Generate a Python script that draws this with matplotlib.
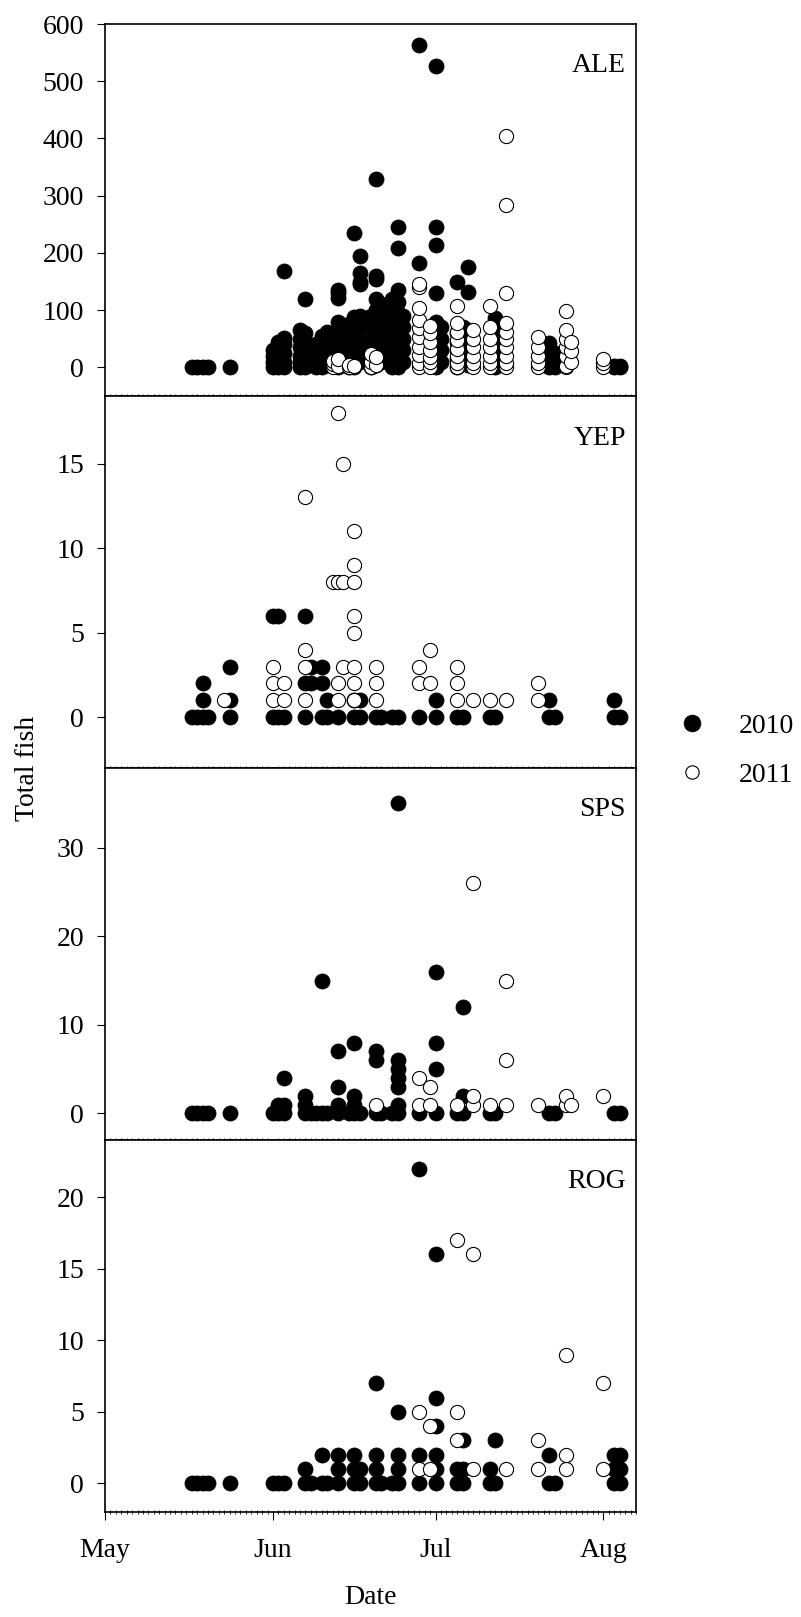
import matplotlib
matplotlib.use('Agg')
import matplotlib.pyplot as plt
from matplotlib.lines import Line2D
from matplotlib.ticker import MultipleLocator

plt.rcParams['font.family'] = ['Liberation Serif', 'DejaVu Serif']

# ---------------- data (day of year -> counts observed that day) ----------------
MONTH_TICKS = [121, 152, 182, 213]
MONTH_LABELS = ['May', 'Jun', 'Jul', 'Aug']
SPECIES = ['ALE', 'YEP', 'SPS', 'ROG']
YEARS = ['2010', '2011']

ALE_2010 = {
    137: [0], 138: [0], 139: [0], 140: [0], 144: [0],
    152: [0, 10, 20, 30], 153: [0, 15, 35, 45], 154: [0, 10, 25, 40, 52, 168],
    157: [0, 10, 20, 35, 50, 65], 158: [0, 15, 30, 45, 60, 120],
    160: [0, 10, 25, 40], 161: [0, 15, 30, 45, 55], 162: [5, 20, 35, 50, 62],
    164: [0, 10, 20, 35, 50, 65, 80, 122, 130, 135],
    166: [0, 15, 30, 45, 60, 75], 167: [0, 20, 40, 55, 70, 88, 234],
    168: [10, 30, 50, 70, 90, 145, 150, 165, 195],
    170: [0, 15, 30, 50, 70, 90], 171: [5, 20, 40, 60, 80, 100, 120, 155, 160, 330],
    172: [10, 30, 50, 70, 95, 110],
    174: [0, 20, 40, 60, 80, 100, 120], 175: [0, 15, 35, 55, 75, 95, 115, 135, 208, 245],
    176: [10, 30, 50, 70, 90],
    179: [182, 563], 182: [0, 20, 40, 60, 80, 130, 214, 245, 527], 183: [10, 30, 50, 70],
    186: [0, 15, 30, 45, 60, 149], 187: [10, 25, 40, 55, 70], 188: [5, 20, 35, 50, 65, 131, 176],
    193: [0, 20, 40, 60, 75, 86], 194: [10, 30, 50],
    203: [0, 10, 20, 30, 42], 204: [0, 10, 25],
    215: [0, 3], 216: [0, 3],
}
ALE_2011 = {
    163: [0, 6, 12], 164: [3, 15], 166: [0, 5], 167: [3],
    170: [0, 10, 24], 171: [5, 18],
    179: [0, 7, 21, 35, 53, 68, 82, 103, 140, 146], 181: [0, 10, 18, 30, 45, 60, 73],
    186: [0, 8, 20, 32, 47, 62, 77, 108], 189: [0, 7, 20, 35, 50, 65],
    192: [0, 7, 20, 35, 50, 70, 108], 195: [0, 7, 20, 35, 50, 62, 77, 130, 283, 404],
    201: [0, 8, 20, 35, 53], 206: [0, 3, 20, 35, 50, 65, 98], 207: [10, 28, 45],
    213: [0, 8, 15],
}

YEP_2010 = {
    137: [0], 138: [0], 139: [0, 1, 2], 140: [0], 144: [0, 1, 3],
    152: [0, 6], 153: [0, 6], 154: [0], 158: [0, 2, 6], 159: [2, 3],
    161: [0, 2, 3], 162: [0, 1], 164: [0], 167: [0, 1], 168: [0, 1],
    171: [0], 172: [0], 174: [0], 175: [0], 179: [0], 182: [0, 1],
    186: [0], 187: [0], 192: [0], 193: [0], 203: [0, 1], 204: [0],
    215: [0, 1], 216: [0],
}
YEP_2011 = {
    143: [1], 152: [1, 2, 3], 154: [1, 2], 158: [1, 3, 4, 13], 163: [8],
    164: [1, 2, 8, 18], 165: [3, 8, 15], 167: [1, 2, 3, 5, 6, 8, 9, 11],
    171: [1, 2, 3], 179: [2, 3], 181: [2, 4], 186: [1, 2, 3], 189: [1],
    192: [1], 195: [1], 201: [1, 2],
}

SPS_2010 = {
    137: [0], 138: [0], 139: [0], 140: [0], 144: [0], 152: [0], 153: [0, 1],
    154: [0, 1, 4], 158: [0, 1, 2], 159: [0], 160: [0], 161: [0, 15], 162: [0],
    164: [0, 1, 3, 7], 166: [0], 167: [0, 1, 2, 8], 168: [0], 171: [0, 6, 7],
    172: [0], 174: [0], 175: [0, 1, 3, 4, 5, 6, 35], 179: [0], 182: [0, 5, 8, 16],
    186: [0], 187: [0, 2, 12], 192: [0], 193: [0], 203: [0], 204: [0],
    215: [0], 216: [0],
}
SPS_2011 = {
    171: [1], 179: [1, 4], 181: [1, 3], 186: [1], 189: [1, 2, 26], 192: [1],
    195: [1, 6, 15], 201: [1], 206: [1, 2], 207: [1], 213: [2],
}

ROG_2010 = {
    137: [0], 138: [0], 139: [0], 140: [0], 144: [0], 152: [0], 153: [0], 154: [0],
    158: [0, 1], 159: [0], 161: [0, 2], 162: [0], 164: [0, 1, 2], 167: [0, 1, 2],
    168: [0, 1], 171: [0, 1, 2, 7], 172: [0], 174: [0], 175: [0, 1, 2, 5],
    179: [0, 2, 22], 182: [0, 1, 2, 4, 6, 16], 186: [0, 1], 187: [0, 1, 3],
    192: [0, 1], 193: [0, 3], 203: [0, 2], 204: [0], 215: [0, 1, 2], 216: [0, 1, 2],
}
ROG_2011 = {
    179: [1, 5], 181: [1, 4], 186: [3, 5, 17], 189: [1, 16], 195: [1],
    201: [1, 3], 206: [1, 2, 9], 213: [1, 7],
}

PANELS = [
    ('ALE', ALE_2010, ALE_2011, (-50, 600), [0, 100, 200, 300, 400, 500, 600]),
    ('YEP', YEP_2010, YEP_2011, (-3, 19), [0, 5, 10, 15]),
    ('SPS', SPS_2010, SPS_2011, (-3, 39), [0, 10, 20, 30]),
    ('ROG', ROG_2010, ROG_2011, (-2, 24), [0, 5, 10, 15, 20]),
]


def expand(d):
    xs, ys = [], []
    for day, vals in d.items():
        for v in vals:
            xs.append(day)
            ys.append(v)
    return xs, ys


W, H = 801, 1617
FS = 20
fig = plt.figure(figsize=(W / 100, H / 100), dpi=100)

for i, (name, d10, d11, ylim, yticks) in enumerate(PANELS):
    top = 24 + i * 372
    ax = fig.add_axes([105 / W, 1 - (top + 372) / H, 531 / W, 372 / H])
    x, y = expand(d10)
    ax.plot(x, y, 'o', ls='none', ms=10.8, mfc='black', mec='black', mew=0.6, zorder=3)
    x, y = expand(d11)
    ax.plot(x, y, 'o', ls='none', ms=10.2, mfc='white', mec='black', mew=0.8, zorder=4)
    ax.set_xlim(121, 219)
    ax.set_ylim(*ylim)
    ax.set_yticks(yticks)
    ax.xaxis.set_minor_locator(MultipleLocator(1))
    ax.tick_params(axis='y', direction='out', length=6, width=0.8, labelsize=FS, pad=9)
    ax.tick_params(axis='x', which='minor', direction='inout', length=3, width=0.6)
    ax.set_xticks(MONTH_TICKS)
    if i < 3:
        ax.tick_params(axis='x', which='major', length=0, labelbottom=False)
    else:
        ax.set_xticklabels(MONTH_LABELS)
        ax.tick_params(axis='x', which='major', direction='out', length=6, width=0.8,
                       labelsize=FS, pad=13)
    for sp in ax.spines.values():
        sp.set_linewidth(1.2)
    ax.text(0.981, 1 - 42 / 372, name, transform=ax.transAxes, ha='right', va='center',
            fontsize=FS)

fig.text(27 / W, 1 - 768 / H, 'Total fish', rotation=90, ha='center', va='center', fontsize=FS)
fig.text((105 + 636) / 2 / W, 1 - 1597 / H, 'Date', ha='center', va='center', fontsize=FS)

handles = [
    Line2D([], [], marker='o', ls='none', ms=12, mfc='black', mec='black', mew=0.6),
    Line2D([], [], marker='o', ls='none', ms=9.6, mfc='white', mec='black', mew=0.8),
]
fig.legend(handles, YEARS, loc='center left', bbox_to_anchor=(678 / W, 1 - 750.5 / H),
           frameon=False, fontsize=FS, handlelength=1.0, handletextpad=1.2,
           labelspacing=0.85, borderpad=0, borderaxespad=0)

fig.savefig('out.png', dpi=100)
